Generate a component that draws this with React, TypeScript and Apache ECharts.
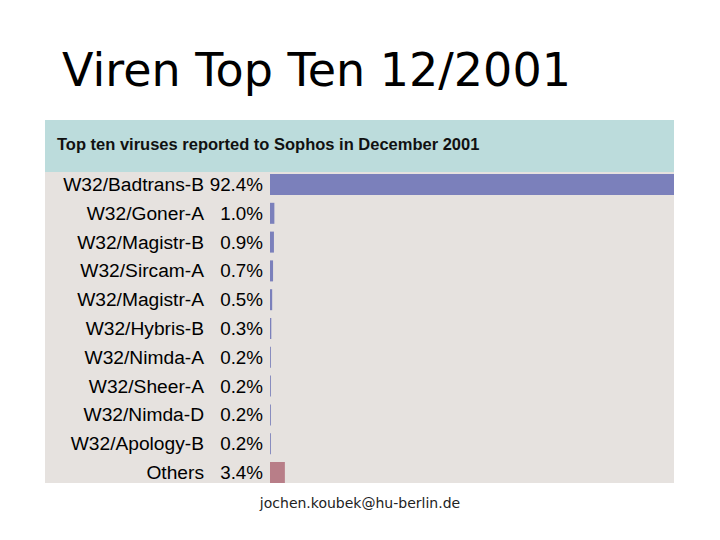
import React, { useEffect, useRef } from "react";
import * as echarts from "echarts";

const titleText = "Viren Top Ten 12/2001";
const headerText = "Top ten viruses reported to Sophos in December 2001";
const footerText = "jochen.koubek@hu-berlin.de";

const viruses = [
  "W32/Badtrans-B",
  "W32/Goner-A",
  "W32/Magistr-B",
  "W32/Sircam-A",
  "W32/Magistr-A",
  "W32/Hybris-B",
  "W32/Nimda-A",
  "W32/Sheer-A",
  "W32/Nimda-D",
  "W32/Apology-B",
  "Others",
];
const shares = [92.4, 1.0, 0.9, 0.7, 0.5, 0.3, 0.2, 0.2, 0.2, 0.2, 3.4];

const BAR_COLOR = "#7b80bb";
const OTHERS_COLOR = "#b87e88";

export default function App() {
  const ref = useRef<HTMLDivElement>(null);
  useEffect(() => {
    if (!ref.current) return;
    const chart = echarts.init(ref.current, null, { renderer: "svg" });
    const labelFont = "'Liberation Sans', Arial, Helvetica, sans-serif";
    chart.setOption({
      animation: false,
      backgroundColor: "#ffffff",
      graphic: [
        {
          type: "rect",
          z: -10,
          shape: { x: 45, y: 120, width: 629, height: 52 },
          style: { fill: "#bcdcdc" },
          silent: true,
        },
        {
          type: "rect",
          z: -10,
          shape: { x: 45, y: 172, width: 629, height: 311 },
          style: { fill: "#e6e2df" },
          silent: true,
        },
        {
          type: "text",
          x: 62,
          y: 70,
          style: {
            text: titleText,
            font: "46px 'DejaVu Sans', Verdana, sans-serif",
            fill: "#000",
            textVerticalAlign: "middle",
            textAlign: "left",
          },
        },
        {
          type: "text",
          x: 57,
          y: 144,
          style: {
            text: headerText,
            font: "bold 16.5px " + labelFont,
            fill: "#111",
            textVerticalAlign: "middle",
            textAlign: "left",
          },
        },
        {
          type: "text",
          x: 360,
          y: 503,
          style: {
            text: footerText,
            font: "14px 'DejaVu Sans', Verdana, sans-serif",
            fill: "#222",
            textVerticalAlign: "middle",
            textAlign: "center",
          },
        },
      ],
      grid: { left: 270, right: 46, top: 170.1, height: 316.8 },
      xAxis: {
        type: "value",
        min: 0,
        max: 92.4,
        show: false,
        splitLine: { show: false },
      },
      yAxis: {
        type: "category",
        inverse: true,
        data: viruses,
        axisLine: { show: false },
        axisTick: { show: false },
        splitLine: { show: false },
        axisLabel: {
          margin: 7,
          formatter: (value: string, index: number) =>
            `{n|${value}}{p|${shares[index].toFixed(1)}%}`,
          rich: {
            n: {
              fontFamily: labelFont,
              fontSize: 19.2,
              color: "#000",
              padding: [0, 6, 0, 0],
            },
            p: {
              fontFamily: labelFont,
              fontSize: 18.8,
              color: "#000",
              width: 53,
              align: "right",
            },
          },
        },
      },
      series: [
        {
          type: "bar",
          barWidth: 21,
          data: viruses.map((name, i) => ({
            value: shares[i],
            itemStyle: { color: name === "Others" ? OTHERS_COLOR : BAR_COLOR },
          })),
        },
      ],
    });
    return () => chart.dispose();
  }, []);
  return <div ref={ref} style={{ width: 720, height: 540, margin: -8 }} />;
}
